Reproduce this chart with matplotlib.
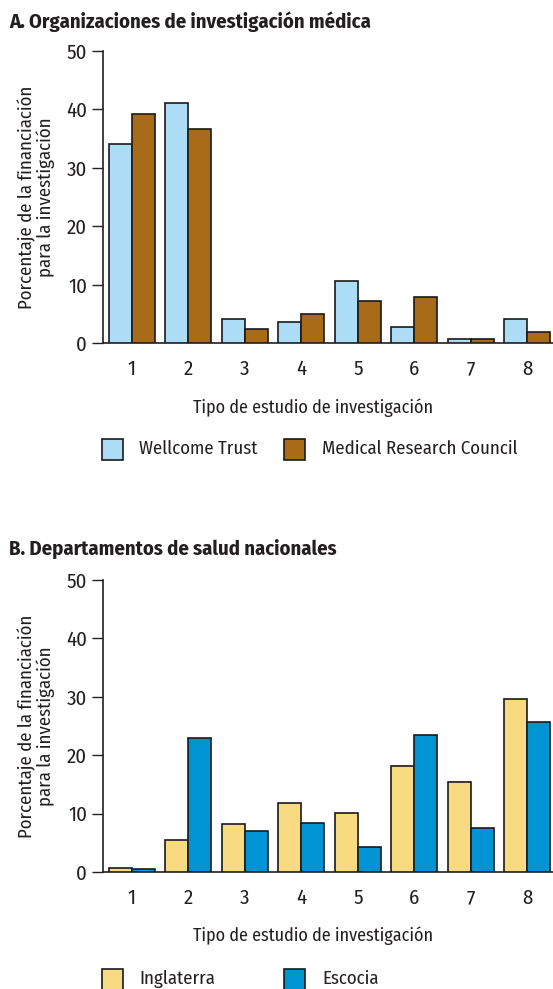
import matplotlib
matplotlib.use("Agg")
import matplotlib.pyplot as plt
import numpy as np
from matplotlib.patches import Rectangle

categories = [1, 2, 3, 4, 5, 6, 7, 8]
wellcome = [34.1, 41.1, 4.1, 3.7, 10.7, 2.8, 0.7, 4.2]
mrc = [39.3, 36.7, 2.4, 5.0, 7.3, 8.0, 0.7, 2.0]
inglaterra = [0.6, 5.5, 8.3, 11.8, 10.1, 18.1, 15.4, 29.6]
escocia = [0.45, 22.9, 7.0, 8.35, 4.3, 23.4, 7.5, 25.6]
yticks = [0, 10, 20, 30, 40, 50]

FONT = ["Fira Sans Condensed", "DejaVu Sans"]
plt.rcParams['font.family'] = FONT
TXT = "#231f20"
TICKFS = 15
FS = 13

W, H = 553, 989
fig = plt.figure(figsize=(W / 100, H / 100), dpi=100)

def px_ax(left, top, right, bottom):
    return [left / W, 1 - bottom / H, (right - left) / W, (bottom - top) / H]

def panel(rect, s1, s2, c1, c2, title, title_y, leg_y, names):
    ax = fig.add_axes(px_ax(*rect))
    x = np.array(categories, dtype=float)
    bw = 0.41
    ax.bar(x - bw / 2, s1, width=bw, color=c1, edgecolor="#1a1a1a", linewidth=1.2, zorder=3)
    ax.bar(x + bw / 2, s2, width=bw, color=c2, edgecolor="#1a1a1a", linewidth=1.2, zorder=3)
    ax.set_xlim(0.49, 8.455)
    ax.set_ylim(0, 50)
    ax.set_yticks(yticks)
    ax.set_xticks(categories)
    ax.tick_params(axis='y', length=8, width=1, color=TXT, labelsize=TICKFS, labelcolor=TXT, pad=3.5)
    ax.tick_params(axis='x', length=0, labelsize=TICKFS, labelcolor=TXT, pad=12)
    for s in ['top', 'right']:
        ax.spines[s].set_visible(False)
    for s in ['left', 'bottom']:
        ax.spines[s].set_color(TXT)
        ax.spines[s].set_linewidth(1.2)
    ax.set_ylabel("Porcentaje de la financiación\npara la investigación", fontsize=13.5,
                  color=TXT, linespacing=1.0)
    ax.yaxis.set_label_coords(-0.107, 0.5)
    fig.text(313 / W, 1 - (rect[3] + 64) / H, "Tipo de estudio de investigación",
             fontsize=13, color=TXT, ha='center', va='center')
    fig.text(9 / W, 1 - title_y / H, title, fontsize=14.8, fontweight='bold', color=TXT,
             ha='left', va='center')
    for (sx, tx), c, n in zip([(102, 139), (284, 322)], [c1, c2], names):
        fig.patches.append(Rectangle((sx / W, 1 - (leg_y + 10.5) / H), 21 / W, 21 / H,
                                     transform=fig.transFigure, facecolor=c,
                                     edgecolor="#1a1a1a", linewidth=1.2))
        fig.text(tx / W, 1 - leg_y / H, n, fontsize=FS + 0.5, color=TXT, ha='left', va='center')
    return ax

panel((103, 51, 553, 343.3), wellcome, mrc, "#addcf6", "#a86b17",
      "A. Organizaciones de investigación médica", 22, 449,
      ["Wellcome Trust", "Medical Research Council"])
panel((103, 580, 553, 872), inglaterra, escocia, "#f8da80", "#0094d5",
      "B. Departamentos de salud nacionales", 549, 979,
      ["Inglaterra", "Escocia"])

fig.savefig("out.png", dpi=100)
